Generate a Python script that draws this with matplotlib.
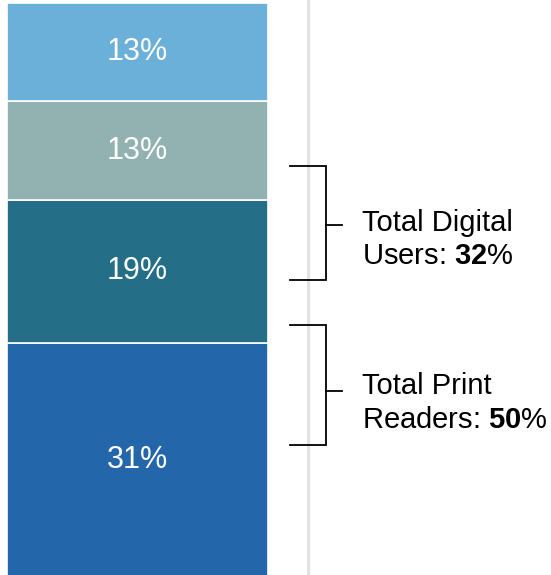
import numpy as np
import matplotlib
matplotlib.use("Agg")
import matplotlib.pyplot as plt

# data: stacked segments, bottom to top
segment_values = [31, 19, 13, 13]
segment_colors = ["#2366AA", "#246F87", "#92B2B2", "#6AB0D8"]

# bracket groups
group_titles = ["Total Digital", "Total Print"]
group_prefixes = ["Users: ", "Readers: "]
group_totals = [32, 50]
group_spans = [(39.4, 54.4), (17.45, 33.4)]
group_ticks = [46.6, 24.6]
group_text_y = [(45.85, 41.45), (24.2, 19.7)]

plt.rcParams["font.family"] = ["Liberation Sans", "DejaVu Sans"]
plt.rcParams["mathtext.fontset"] = "custom"
plt.rcParams["mathtext.rm"] = "Liberation Sans"
plt.rcParams["mathtext.bf"] = "Liberation Sans:bold"

W, H = 551, 575
fig = plt.figure(figsize=(W / 100, H / 100), dpi=100)
ax = fig.add_axes([0, 0, 1, 1])

# bar spans px 7..268
px_per_unit = 261
ax.set_xlim(-0.5 - 7 / px_per_unit, -0.5 + (W - 7) / px_per_unit)
px_per_pct = 572 / 76
ax.set_ylim(0.25, 76.05 + 3 / px_per_pct)
ax.axis("off")

bottom = 0
for v, c in zip(segment_values, segment_colors):
    ax.bar(0, v, width=1, bottom=bottom, color=c, edgecolor="white", linewidth=1.2)
    ax.text(0, bottom + v / 2, f"{v}%", color="white", fontsize=22,
            ha="center", va="center")
    bottom += v

# light divider line
ax.axvline(-0.5 + (307.5 - 7) / px_per_unit, color="#e2e2e2", lw=2.2, zorder=0)

x_left = -0.5 + (290 - 7) / px_per_unit
x_vert = -0.5 + (326 - 7) / px_per_unit
x_tick = -0.5 + (342 - 7) / px_per_unit
x_text = -0.5 + (362 - 7) / px_per_unit

for title, prefix, total, (lo, hi), tk, (y1, y2) in zip(
        group_titles, group_prefixes, group_totals, group_spans, group_ticks, group_text_y):
    ax.plot([x_left, x_vert, x_vert, x_left], [hi, hi, lo, lo],
            color="black", lw=1.3, solid_joinstyle="miter")
    ax.plot([x_vert, x_tick], [tk, tk], color="black", lw=1.3)
    ax.text(x_text, y1, title, fontsize=21, ha="left", va="baseline")
    ax.text(x_text, y2, prefix + r"$\mathbf{" + str(total) + "}$%",
            fontsize=21, ha="left", va="baseline")

fig.savefig("out.png", dpi=100)
